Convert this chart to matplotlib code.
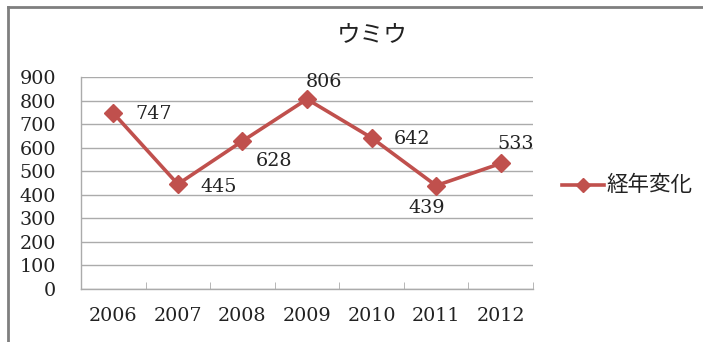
import matplotlib
matplotlib.use("Agg")
import matplotlib.pyplot as plt
from matplotlib.lines import Line2D

# Annual counts
years = ["2006", "2007", "2008", "2009", "2010", "2011", "2012"]
counts = [747, 445, 628, 806, 642, 439, 533]
yticks = [0, 100, 200, 300, 400, 500, 600, 700, 800, 900]
title = "ウミウ"
series_name = "経年変化"

RED = "#C0504D"
GRID = "#ABABAB"
TEXT = "#222222"
W, H = 703, 342
DPI = 100

plt.rcParams["font.family"] = ["Noto Sans CJK JP", "DejaVu Sans"]
NUM_SIZE = 13.8
num_font = {"family": "DejaVu Serif", "size": NUM_SIZE, "color": TEXT}

fig = plt.figure(figsize=(W / DPI, H / DPI), dpi=DPI)
fig.patch.set_facecolor("white")

# Plot area placed in pixel terms
left, right, top, bottom = 81, 533, 77, 289
ax = fig.add_axes([left / W, (H - bottom) / H, (right - left) / W, (bottom - top) / H])

x = list(range(len(years)))
ax.plot(x, counts, color=RED, lw=2.6, marker="D", markersize=9.5,
        markerfacecolor=RED, markeredgecolor=RED, zorder=3, clip_on=False)

ax.set_xlim(-0.5, len(years) - 0.5)
ax.set_ylim(0, 900)
ax.set_yticks(yticks)
ax.set_yticklabels([str(v) for v in yticks], fontdict=num_font)
ax.set_xticks(x)
ax.set_xticklabels(years, fontdict=num_font)
ax.set_xticks([i - 0.5 for i in range(len(years) + 1)], minor=True)

ax.grid(axis="y", color=GRID, lw=1.0)
ax.set_axisbelow(True)
ax.tick_params(axis="y", length=0, pad=18)
ax.tick_params(axis="x", which="major", length=0, pad=13)
ax.tick_params(axis="x", which="minor", direction="in", length=5, color=GRID)

for side in ("top", "right"):
    ax.spines[side].set_visible(False)
for side in ("left", "bottom"):
    ax.spines[side].set_color(GRID)
    ax.spines[side].set_linewidth(1.0)

# Data labels (offsets in points)
offsets = [(16, -1), (16, -2), (23, -14), (12, 12), (16, -1), (-7, -16), (11, 14)]
aligns = ["left", "left", "center", "center", "left", "center", "center"]
for xi, v, off, ha in zip(x, counts, offsets, aligns):
    ax.annotate(str(v), (xi, v), xytext=off, textcoords="offset points",
                ha=ha, va="center", fontfamily="DejaVu Serif", fontsize=NUM_SIZE,
                color=TEXT)

fig.text(372 / W, 1 - 36 / H, title, ha="center", va="center", fontsize=17,
         color=TEXT)

# Legend entry
ly = 1 - 185 / H
fig.add_artist(Line2D([562 / W, 604 / W], [ly, ly], color=RED, lw=2.6,
                      transform=fig.transFigure))
fig.add_artist(Line2D([583 / W], [ly], color=RED, marker="D", markersize=7,
                      transform=fig.transFigure))
fig.text(606 / W, ly, series_name, ha="left", va="center", fontsize=15.5,
         color=TEXT)

# Outer frame (left and top edges)
fig.add_artist(Line2D([8 / W, 8 / W], [0, 1 - 7 / H], color="#7f7f7f", lw=2,
                      transform=fig.transFigure))
fig.add_artist(Line2D([8 / W, 1], [1 - 7 / H, 1 - 7 / H], color="#7f7f7f", lw=2,
                      transform=fig.transFigure))

fig.savefig("out.png", dpi=DPI, facecolor="white")
